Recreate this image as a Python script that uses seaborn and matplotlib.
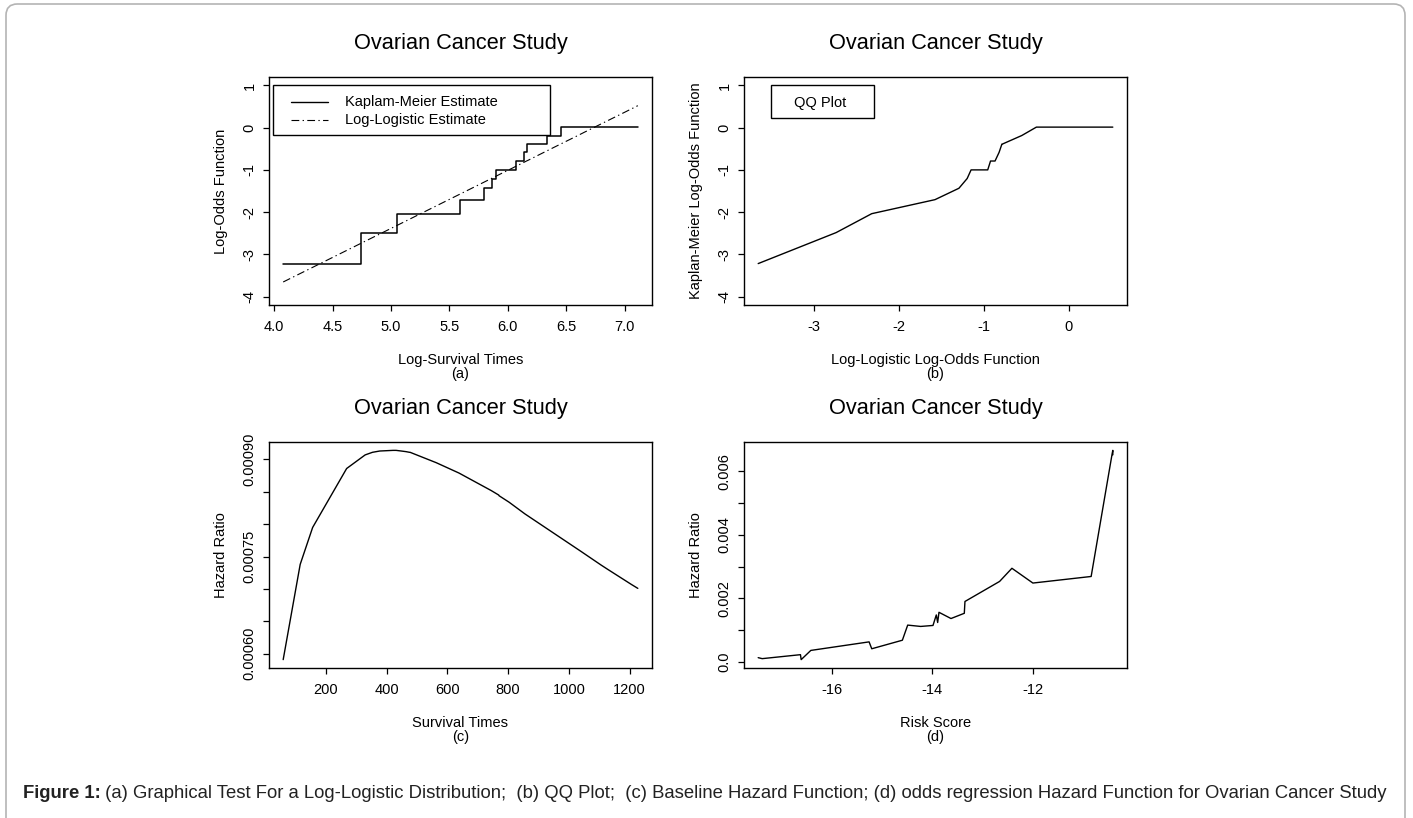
import numpy as np
import pandas as pd
import matplotlib
matplotlib.use("Agg")
import matplotlib.pyplot as plt
import seaborn as sns
from matplotlib.patches import Rectangle, FancyBboxPatch
from matplotlib.lines import Line2D

# ---------------- data ----------------
times = [59, 115, 156, 268, 329, 353, 365, 377, 421, 431, 448, 464, 475,
         477, 563, 638, 744, 769, 770, 803, 855, 1040, 1106, 1129, 1206, 1227]
log_times = [4.078, 4.745, 5.050, 5.591, 5.796, 5.866, 5.900, 5.932, 6.043,
             6.066, 6.105, 6.140, 6.163, 6.168, 6.333, 6.458, 6.612, 6.645,
             6.646, 6.688, 6.751, 6.947, 7.009, 7.029, 7.095, 7.112]
km_logodds = [-3.219, -2.485, -2.037, -1.705, -1.435, -1.204, -1.000, -1.000,
              -1.000, -0.790, -0.790, -0.584, -0.389, -0.389, -0.186, 0.013,
              0.013, 0.013, 0.013, 0.013, 0.013, 0.013, 0.013, 0.013, 0.013, 0.013]
ll_logodds = [-3.655, -2.737, -2.318, -1.573, -1.291, -1.194, -1.148, -1.103,
              -0.952, -0.919, -0.866, -0.818, -0.785, -0.780, -0.551, -0.379,
              -0.168, -0.122, -0.120, -0.063, 0.024, 0.293, 0.378, 0.406,
              0.497, 0.521]
baseline_hazard = [0.000591, 0.000738, 0.000795, 0.000886, 0.000907, 0.000911,
                   0.000912, 0.000913, 0.000914, 0.000914, 0.000913, 0.000912,
                   0.000911, 0.000911, 0.000895, 0.000879, 0.000852, 0.000845,
                   0.000844, 0.000834, 0.000816, 0.000758, 0.000737, 0.000730,
                   0.000707, 0.000701]
risk_score = [-17.464, -17.384, -16.623, -16.609, -16.417, -15.258, -15.205,
              -14.596, -14.490, -14.232, -13.987, -13.921, -13.894, -13.868,
              -13.629, -13.364, -13.351, -12.662, -12.417, -12.000, -10.841,
              -10.424, -10.410, -10.410]
risk_hazard = [0.000134, 0.000103, 0.000228, 0.000072, 0.000362, 0.000631,
               0.000414, 0.000683, 0.001159, 0.001117, 0.001148, 0.001479,
               0.001241, 0.001562, 0.001366, 0.001531, 0.001903, 0.002534,
               0.002948, 0.002483, 0.002690, 0.006548, 0.006660, 0.006520]

title = "Ovarian Cancer Study"
xticks_a = [4.0, 4.5, 5.0, 5.5, 6.0, 6.5, 7.0]
yticks_ab = [-4, -3, -2, -1, 0, 1]
xticks_b = [-3, -2, -1, 0]
xticks_c = [200, 400, 600, 800, 1000, 1200]
yticks_c = [0.00060, 0.00065, 0.00070, 0.00075, 0.00080, 0.00085, 0.00090]
yticklabels_c = ["0.00060", "", "", "0.00075", "", "", "0.00090"]
xticks_d = [-16, -14, -12]
yticks_d = [0.0, 0.001, 0.002, 0.003, 0.004, 0.005, 0.006]
yticklabels_d = ["0.0", "", "0.002", "", "0.004", "", "0.006"]
caption_bold = "Figure 1:"
caption_rest = (" (a) Graphical Test For a Log-Logistic Distribution;  (b) QQ Plot;  "
                "(c) Baseline Hazard Function; (d) odds regression Hazard Function "
                "for Ovarian Cancer Study")

# ---------------- style ----------------
sns.set_theme(style="ticks")
plt.rcParams.update({
    "font.family": ["Liberation Sans", "DejaVu Sans"],
    "axes.unicode_minus": False,
    "axes.edgecolor": "black",
    "axes.linewidth": 1.0,
    "xtick.color": "black",
    "ytick.color": "black",
    "xtick.direction": "out",
    "ytick.direction": "out",
    "xtick.major.size": 4.0,
    "ytick.major.size": 4.0,
    "xtick.major.width": 0.9,
    "ytick.major.width": 0.9,
    "xtick.labelsize": 10.5,
    "ytick.labelsize": 10.5,
    "axes.labelsize": 10.5,
    "text.color": "black",
    "axes.labelcolor": "black",
})

W, H = 1413, 818
fig = plt.figure(figsize=(W / 100, H / 100), dpi=100)
fig.patch.set_facecolor("white")


def px_axes(l, t, r, b):
    return fig.add_axes([l / W, 1 - b / H, (r - l) / W, (b - t) / H])


def r_range(vals, frac=0.04):
    lo, hi = min(vals), max(vals)
    d = (hi - lo) * frac
    return lo - d, hi + d


def style_axes(ax, xlabel, sub, ylabel):
    for s in ax.spines.values():
        s.set_visible(True)
        s.set_color("black")
        s.set_linewidth(1.0)
    ax.tick_params(axis="x", pad=7)
    ax.tick_params(axis="y", pad=5)
    for lab in ax.get_yticklabels():
        lab.set_rotation(90)
        lab.set_va("center")
    ax.set_xlabel(xlabel)
    ax.xaxis.set_label_coords(0.5, -55 / 227)
    ax.xaxis.label.set_va("center")
    ax.text(0.5, -69 / 227, sub, transform=ax.transAxes, ha="center",
            va="center", fontsize=10.5)
    ax.set_ylabel(ylabel)
    ax.yaxis.set_label_coords(-48 / 383, 0.5)
    ax.yaxis.label.set_va("center")
    ax.set_title(title, fontsize=15.7, pad=20.5)
    ax.grid(False)


# ---- (a)
ax_a = px_axes(269, 77, 652, 305)
sns.lineplot(x=log_times, y=km_logodds, ax=ax_a, estimator=None, sort=False,
             color="black", lw=1.1, drawstyle="steps-post")
sns.lineplot(x=log_times, y=ll_logodds, ax=ax_a, estimator=None, sort=False,
             color="black", lw=0.8, linestyle=(0, (7, 3, 1.2, 3)))
ax_a.set_xlim(r_range(log_times))
ax_a.set_ylim(r_range([-4, 1]))
ax_a.set_xticks(xticks_a)
ax_a.set_xticklabels([f"{v:.1f}" for v in xticks_a])
ax_a.set_yticks(yticks_ab)
ax_a.set_yticklabels([str(v) for v in yticks_ab])
ax_a.add_patch(Rectangle((3.99, -0.175), 6.358 - 3.99, 1.175, fill=False,
                         edgecolor="black", lw=1.0, zorder=3))
ax_a.add_line(Line2D([4.148, 4.465], [0.60, 0.60], color="black", lw=1.0))
ax_a.add_line(Line2D([4.148, 4.465], [0.19, 0.19], color="black", lw=0.8,
                     linestyle=(0, (7, 3, 1.2, 3))))
ax_a.text(4.605, 0.60, "Kaplam-Meier Estimate", va="center", ha="left", fontsize=10.5)
ax_a.text(4.605, 0.19, "Log-Logistic Estimate", va="center", ha="left", fontsize=10.5)
style_axes(ax_a, "Log-Survival Times", "(a)", "Log-Odds Function")

# ---- (b)
ax_b = px_axes(744, 77, 1127, 305)
sns.lineplot(x=ll_logodds, y=km_logodds, ax=ax_b, estimator=None, sort=False,
             color="black", lw=1.0)
ax_b.set_xlim(r_range(ll_logodds))
ax_b.set_ylim(r_range([-4, 1]))
ax_b.set_xticks(xticks_b)
ax_b.set_xticklabels([str(v) for v in xticks_b])
ax_b.set_yticks(yticks_ab)
ax_b.set_yticklabels([str(v) for v in yticks_ab])
ax_b.add_patch(Rectangle((-3.50, 0.22), 1.21, 0.78, fill=False,
                         edgecolor="black", lw=1.0, zorder=3))
ax_b.text(-2.93, 0.59, "QQ Plot", va="center", ha="center", fontsize=10.5)
style_axes(ax_b, "Log-Logistic Log-Odds Function", "(b)",
           "Kaplan-Meier Log-Odds Function")

# ---- (c)
ax_c = px_axes(269, 442, 652, 668)
sns.lineplot(x=times, y=baseline_hazard, ax=ax_c, estimator=None, sort=False,
             color="black", lw=1.0)
ax_c.set_xlim(r_range(times))
ax_c.set_ylim(r_range(baseline_hazard))
ax_c.set_xticks(xticks_c)
ax_c.set_xticklabels([str(v) for v in xticks_c])
ax_c.set_yticks(yticks_c)
ax_c.set_yticklabels(yticklabels_c)
style_axes(ax_c, "Survival Times", "(c)", "Hazard Ratio")

# ---- (d)
ax_d = px_axes(744, 442, 1127, 668)
sns.lineplot(x=risk_score, y=risk_hazard, ax=ax_d, estimator=None, sort=False,
             color="black", lw=1.0)
ax_d.set_xlim(r_range(risk_score))
ax_d.set_ylim(r_range(risk_hazard))
ax_d.set_xticks(xticks_d)
ax_d.set_xticklabels([str(v) for v in xticks_d])
ax_d.set_yticks(yticks_d)
ax_d.set_yticklabels(yticklabels_d)
style_axes(ax_d, "Risk Score", "(d)", "Hazard Ratio")

for ax in (ax_a, ax_b, ax_c, ax_d):
    if ax.get_legend() is not None:
        ax.get_legend().remove()

# ---- outer frame and caption
frame = FancyBboxPatch((6 / W, -20 / H), (1405 - 6) / W, (H - 4 + 20) / H,
                       boxstyle="round,pad=0,rounding_size=0.008",
                       transform=fig.transFigure, fill=False,
                       edgecolor="#b4b4b4", lw=1.2, mutation_aspect=W / H)
fig.patches.append(frame)

cap_y = 1 - 794 / H
t_bold = fig.text(22.7 / W, cap_y, caption_bold, fontsize=13.3, weight="bold",
                  va="center", ha="left", color="#222222")
fig.canvas.draw()
bb = t_bold.get_window_extent()
fig.text(bb.x1 / W, cap_y, caption_rest, fontsize=13.3, va="center", ha="left",
         color="#222222")

fig.savefig("out.png", dpi=100, facecolor="white")
